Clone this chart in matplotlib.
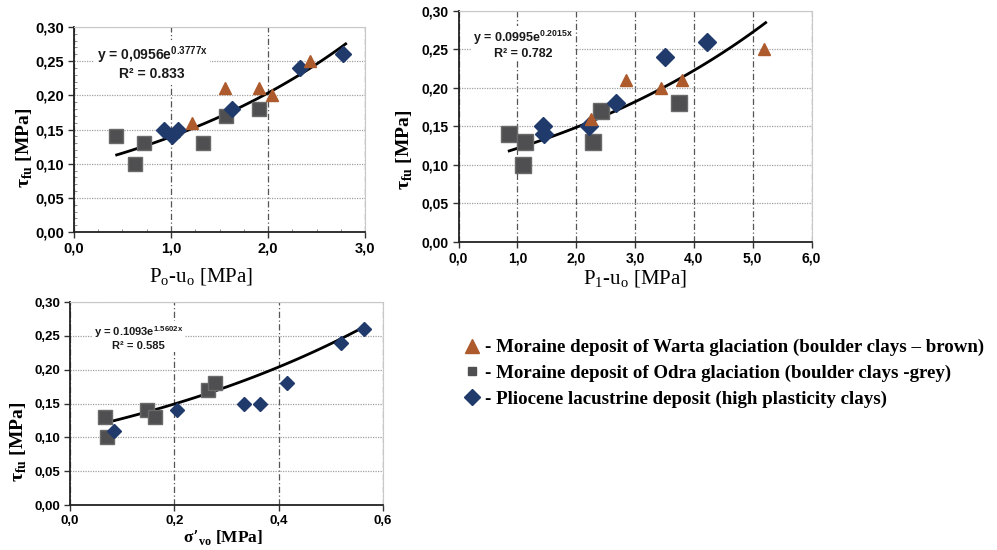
import numpy as np
import matplotlib
matplotlib.use("Agg")
import matplotlib.pyplot as plt
from matplotlib.ticker import MultipleLocator, FuncFormatter, AutoMinorLocator
from matplotlib.lines import Line2D

# soil groups
brown = "#ad5a2c"
grey = "#4f4f51"
navy = "#203a6c"

# panel 1: P0-u0
p0_warta_x = [1.22, 1.56, 1.91, 2.04, 2.43]
p0_warta_y = [0.16, 0.21, 0.21, 0.20, 0.25]
p0_odra_x = [0.43, 0.63, 0.72, 1.33, 1.57, 1.91]
p0_odra_y = [0.14, 0.10, 0.13, 0.13, 0.17, 0.18]
p0_plio_x = [0.93, 1.01, 1.07, 1.63, 2.33, 2.77]
p0_plio_y = [0.15, 0.14, 0.15, 0.18, 0.24, 0.26]
p0_fit = (0.0956, 0.3777, 0.44, 2.80)

# panel 2: P1-u0
p1_warta_x = [2.25, 2.84, 3.44, 3.80, 5.20]
p1_warta_y = [0.16, 0.21, 0.20, 0.21, 0.25]
p1_odra_x = [0.86, 1.13, 1.10, 2.28, 2.42, 3.75]
p1_odra_y = [0.14, 0.13, 0.10, 0.13, 0.17, 0.18]
p1_plio_x = [1.43, 1.45, 2.22, 2.68, 3.50, 4.22]
p1_plio_y = [0.15, 0.14, 0.15, 0.18, 0.24, 0.26]
p1_fit = (0.0995, 0.2015, 0.86, 5.22)

# panel 3: sigma'v0
sv_odra_x = [0.068, 0.071, 0.147, 0.163, 0.265, 0.278]
sv_odra_y = [0.13, 0.10, 0.14, 0.13, 0.17, 0.18]
sv_plio_x = [0.085, 0.206, 0.333, 0.365, 0.416, 0.520, 0.564]
sv_plio_y = [0.11, 0.14, 0.15, 0.15, 0.18, 0.24, 0.26]
sv_fit = (0.1093, 1.5602, 0.07, 0.565)

legend_labels = [
    "- Moraine deposit of Warta glaciation (boulder clays \u2013 brown)",
    "- Moraine deposit of Odra glaciation (boulder clays -grey)",
    "- Pliocene lacustrine deposit (high plasticity clays)",
]

SANS = "Liberation Sans"
SERIF = "Liberation Serif"

fig = plt.figure(figsize=(9.97, 5.50), dpi=100)


def comma(fmt):
    return FuncFormatter(lambda v, p: fmt.format(v).replace(".", ","))


def style_axes(ax, xmax, xstep, xfmt, fs, minor=False):
    ax.set_xlim(0, xmax)
    ax.set_ylim(0, 0.30)
    ax.xaxis.set_major_locator(MultipleLocator(xstep))
    ax.yaxis.set_major_locator(MultipleLocator(0.05))
    ax.xaxis.set_major_formatter(comma(xfmt))
    ax.yaxis.set_major_formatter(comma("{:.2f}"))
    for lab in ax.get_xticklabels() + ax.get_yticklabels():
        lab.set_fontfamily(SANS)
        lab.set_fontweight("bold")
        lab.set_fontsize(fs)
    ax.tick_params(length=4, width=1, pad=3, color="#333333")
    if minor:
        ax.yaxis.set_minor_locator(AutoMinorLocator(5))
        ax.xaxis.set_minor_locator(AutoMinorLocator(4))
        ax.tick_params(which="minor", length=2.5, direction="in", color="#777777")
    ax.grid(axis="y", color="#a0a0a0", lw=0.9, ls=(0, (1, 1)))
    ax.grid(axis="x", color="#555555", lw=0.9, ls=(0, (5, 2, 1, 2)))
    ax.set_axisbelow(True)
    for s in ("top", "right"):
        ax.spines[s].set_color("#c8c8c8")
        ax.spines[s].set_linewidth(0.8)
    for s in ("left", "bottom"):
        ax.spines[s].set_color("#222222")
        ax.spines[s].set_linewidth(1.3)


def draw_fit(ax, fit):
    a, b, x0, x1 = fit
    xs = np.linspace(x0, x1, 100)
    ax.plot(xs, a * np.exp(b * xs), color="black", lw=2.0, zorder=4)


def eq_text(ax, x, y, a, b, r2, fs, sep):
    t = "y = {}e$^{{\\mathregular{{{}x}}}}$\nR\u00b2 = {}".format(a, b, r2)
    ax.text(x, y, t, transform=ax.transAxes, ha="center", va="center",
            fontfamily=SANS, fontweight="bold", fontsize=fs, color="#1a1a1a",
            linespacing=1.05,
            bbox=dict(facecolor="white", edgecolor="none", pad=sep), zorder=3)


# panel 1
ax1 = fig.add_axes([0.0742, 0.578, 0.292, 0.373])
style_axes(ax1, 3.0, 1.0, "{:.1f}", 10.5, minor=True)
ax1.plot(p0_odra_x, p0_odra_y, "s", ms=10, color=grey, mec="#6a6a6a", zorder=5)
ax1.plot(p0_plio_x, p0_plio_y, "D", ms=8, color=navy, mec=navy, zorder=6)
ax1.plot(p0_warta_x, p0_warta_y, "^", ms=8, color=brown, mec=brown, zorder=6)
draw_fit(ax1, p0_fit)
eq_text(ax1, 0.268, 0.825, "0,0956", "0.3777", "0.833", 10, 1.5)
ax1.set_ylabel("\u03c4$_\\mathregular{fu}$ [MPa]", fontfamily=SERIF,
               fontweight="bold", fontsize=14)
ax1.yaxis.set_label_coords(-0.135, 0.41)
ax1.set_xlabel("P$_\\mathregular{o}$-u$_\\mathregular{o}$ [MPa]",
               fontfamily=SERIF, fontsize=15)
ax1.xaxis.set_label_coords(0.436, -0.171)

# panel 2
ax2 = fig.add_axes([0.460, 0.560, 0.354, 0.420])
style_axes(ax2, 6.0, 1.0, "{:.1f}", 10)
ax2.plot(p1_odra_x, p1_odra_y, "s", ms=11, color=grey, mec="#6a6a6a", zorder=5)
ax2.plot(p1_plio_x, p1_plio_y, "D", ms=9, color=navy, mec=navy, zorder=6)
ax2.plot(p1_warta_x, p1_warta_y, "^", ms=9, color=brown, mec=brown, zorder=6)
draw_fit(ax2, p1_fit)
eq_text(ax2, 0.182, 0.855, "0.0995", "0.2015", "0.782", 9, 1.2)
ax2.set_ylabel("\u03c4$_\\mathregular{fu}$ [MPa]", fontfamily=SERIF,
               fontweight="bold", fontsize=14)
ax2.yaxis.set_label_coords(-0.125, 0.40)
ax2.set_xlabel("P$_\\mathregular{1}$-u$_\\mathregular{o}$ [MPa]",
               fontfamily=SERIF, fontsize=15)
ax2.xaxis.set_label_coords(0.5, -0.117)

# panel 3
ax3 = fig.add_axes([0.0702, 0.0818, 0.314, 0.369])
style_axes(ax3, 0.6, 0.2, "{:.1f}", 9.5)
ax3.plot(sv_odra_x, sv_odra_y, "s", ms=10, color=grey, mec="#6a6a6a", zorder=5)
ax3.plot(sv_plio_x, sv_plio_y, "D", ms=7.5, color=navy, mec=navy, zorder=6)
draw_fit(ax3, sv_fit)
eq_text(ax3, 0.218, 0.825, "0.1093", "1.5602", "0.585", 8, 1.2)
ax3.set_ylabel("\u03c4$_\\mathregular{fu}$ [MPa]", fontfamily=SERIF,
               fontweight="bold", fontsize=14)
ax3.yaxis.set_label_coords(-0.13, 0.31)
ax3.set_xlabel("\u03c3\u2019$_\\mathregular{vo}$ [MPa]", fontfamily=SERIF,
               fontweight="bold", fontsize=12.5)
ax3.xaxis.set_label_coords(0.49, -0.115)

# legend
handles = [
    Line2D([], [], ls="none", marker="^", ms=10, color=brown),
    Line2D([], [], ls="none", marker="s", ms=6, color=grey),
    Line2D([], [], ls="none", marker="D", ms=8, color=navy),
]
fig.legend(handles, legend_labels, loc="upper left",
           bbox_to_anchor=(0.467, 1 - 339 / 550), frameon=False,
           handlelength=0.7, handletextpad=0.35, labelspacing=0.45,
           borderaxespad=0, borderpad=0,
           prop=dict(family=SERIF, weight="bold", size=13.6))

fig.savefig("out.png", dpi=100)
